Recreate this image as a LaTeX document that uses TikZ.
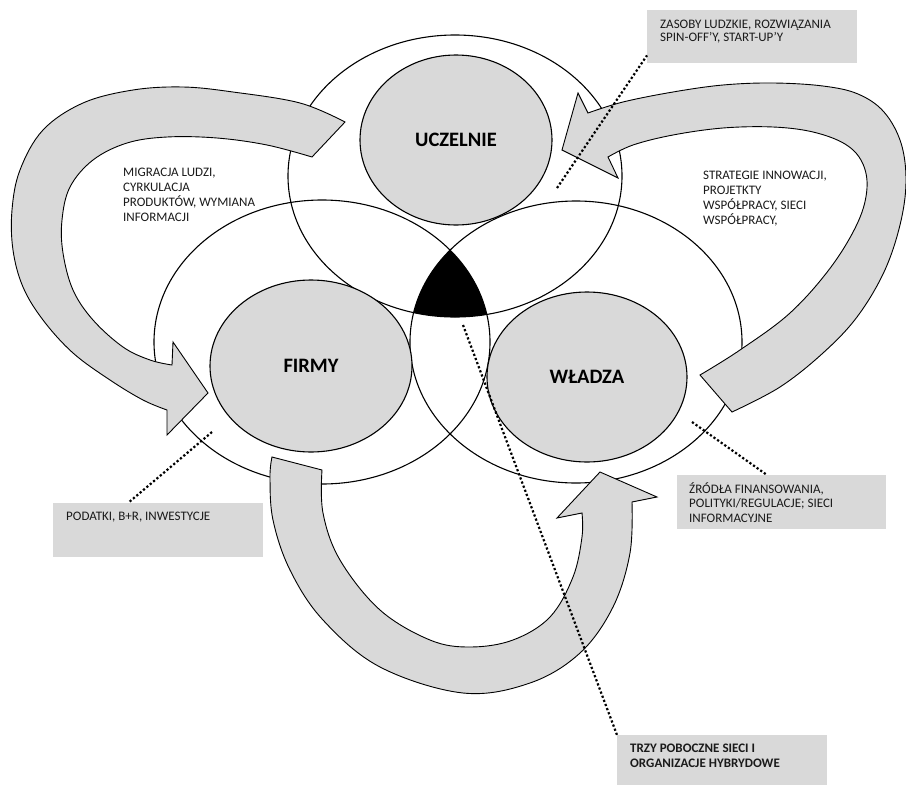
\documentclass[tikz,border=0pt]{standalone}
\usepackage{fontspec}
\setmainfont{Carlito}
\usetikzlibrary{shapes.geometric,calc}
\definecolor{boxgray}{HTML}{D9D9D9}
\definecolor{txt}{HTML}{1A1A1A}
\begin{document}
\begin{tikzpicture}[x=1pt,y=-1pt,
  ring/.style={draw=black,line width=1.1pt},
  core/.style={ellipse,draw=black,line width=1.1pt,fill=boxgray,inner sep=0pt,
    font=\fontsize{20.5}{23}\selectfont\bfseries},
  flow/.style={draw=black,line width=0.9pt,fill=boxgray},
  tag/.style={fill=boxgray,inner sep=0pt,anchor=north west},
  note/.style={anchor=north west,align=left,inner sep=0pt,
    font=\fontsize{13}{14.8}\selectfont,text=txt},
  dotline/.style={line width=2.2pt,dash pattern=on 2.2pt off 2.2pt}]
\clip (0,0) rectangle (906,785);
\fill[white] (0,0) rectangle (906,785);

% large overlapping ellipses
\draw[ring] (455,176) ellipse [x radius=167pt, y radius=141pt];
\draw[ring] (322,342) ellipse [x radius=168pt, y radius=142pt];
\draw[ring] (576,342) ellipse [x radius=166pt, y radius=141pt];
\begin{scope}
  \clip (455,176) ellipse [x radius=167pt, y radius=141pt];
  \clip (322,342) ellipse [x radius=168pt, y radius=142pt];
  \fill[black] (576,342) ellipse [x radius=166pt, y radius=141pt];
\end{scope}

% core ellipses
\node[core,minimum width=192pt,minimum height=170pt] (ucz) at (456,140) {UCZELNIE};
\node[core,minimum width=202pt,minimum height=172pt] (firmy) at (311,366) {FIRMY};
\node[core,minimum width=200pt,minimum height=170pt] (wladza) at (587,377) {WŁADZA};

% left curved arrow
\draw[flow] (345,122)
  -- plot[smooth,tension=0.6] coordinates {(345,122) (300,103) (233,92) (183,87) (133,90) (83,103) (43,130) (20,170) (12,210) (13,250) (23,287) (43,320) (73,353) (110,380) (143,400) (167,410)}
  -- (167,435) -- (208,393) -- (173,342) -- (172,365)
  -- plot[smooth,tension=0.6] coordinates {(172,365) (150,360) (123,347) (93,320) (73,290) (63,253) (62,220) (70,187) (93,160) (127,143) (167,137) (217,138) (267,145) (312,157)}
  -- cycle;

% right curved arrow
\draw[flow] (732,412)
  -- plot[smooth,tension=0.6] coordinates {(732,412) (780,387) (823,353) (857,317) (884,272) (900,225) (906,182) (901,143) (884,112) (858,94) (823,86) (773,83) (723,85) (673,92) (623,102) (588,113)}
  -- (578,93) -- (562,150) -- (618,178) -- (608,157)
  -- plot[smooth,tension=0.6] coordinates {(608,157) (633,145) (673,135) (723,128) (773,127) (813,132) (845,144) (862,162) (867,188) (858,222) (831,267) (790,313) (740,350) (700,375)}
  -- cycle;

% bottom curved arrow
\draw[flow] (272,457)
  -- plot[smooth,tension=0.6] coordinates {(272,457) (270,477) (273,520) (290,570) (323,620) (380,667) (463,693) (530,683) (580,653) (613,607) (630,553) (632,502)}
  -- (657,497) -- (600,472) -- (557,518) -- (582,513)
  -- plot[smooth,tension=0.6] coordinates {(582,513) (582,537) (573,577) (550,617) (513,640) (470,647) (430,640) (380,610) (340,560) (323,513) (322,470)}
  -- cycle;

% grey label boxes
\node[tag,minimum width=210pt,minimum height=53pt] (box1) at (647,10) {};
\node[tag,minimum width=209pt,minimum height=54pt] (box2) at (677,475) {};
\node[tag,minimum width=210pt,minimum height=54pt] (box3) at (53,503) {};
\node[tag,minimum width=210pt,minimum height=60pt] (box4) at (617,735) {};

% texts
\node[note] (t1) at (123,168) {MIGRACJA LUDZI,\\CYRKULACJA\\PRODUKTÓW, WYMIANA\\INFORMACJI};
\node[note] (t2) at (703,171) {STRATEGIE INNOWACJI,\\PROJETKTY\\WSPÓŁPRACY, SIECI\\WSPÓŁPRACY,};
\node[note,font=\fontsize{13}{12.5}\selectfont] (t3) at (660,20) {ZASOBY LUDZKIE, ROZWIĄZANIA\\SPIN-OFF’Y, START-UP’Y};
\node[note] (t4) at (689,482) {ŹRÓDŁA FINANSOWANIA,\\POLITYKI/REGULACJE; SIECI\\INFORMACYJNE};
\node[note] (t5) at (66,512) {PODATKI, B+R, INWESTYCJE};
\node[note,font=\fontsize{13}{15}\selectfont\bfseries] (t6) at (630,744) {TRZY POBOCZNE SIECI I\\ORGANIZACJE HYBRYDOWE};

% dotted leaders
\coordinate (d1) at (557,188);
\coordinate (d2) at (692,422);
\coordinate (d3) at (212,432);
\coordinate (d4) at (463,325);
\draw[dotline] (d1) -- ([yshift=8pt]box1.south west);
\draw[dotline] (d2) -- ([xshift=90pt]box2.north west);
\draw[dotline] (d3) -- ([xshift=75pt]box3.north west);
\draw[dotline] (d4) -- (box4.north west);
\end{tikzpicture}
\end{document}
